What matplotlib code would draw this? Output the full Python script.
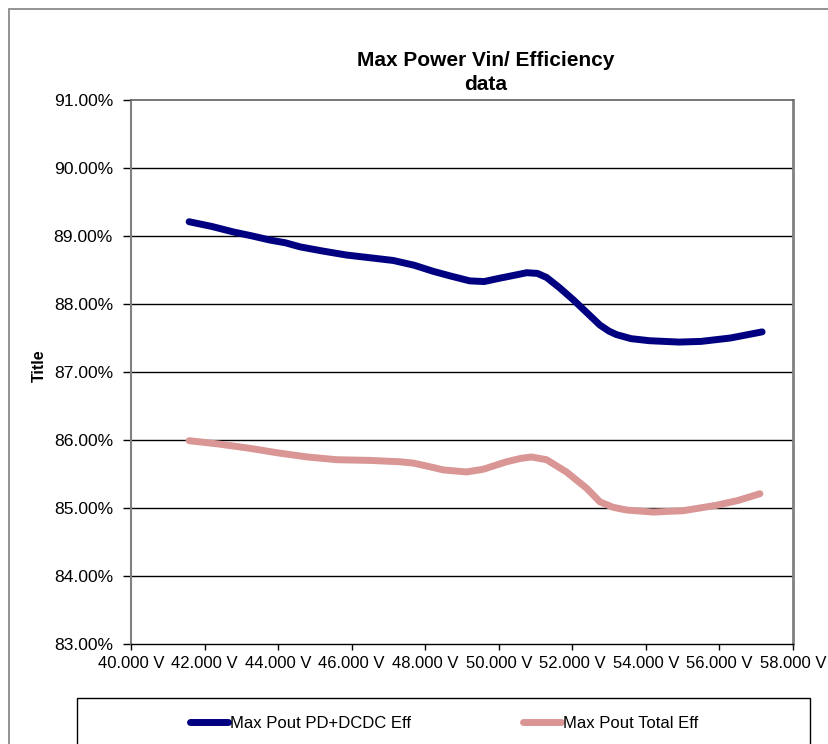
import matplotlib.pyplot as plt
from matplotlib.patches import Rectangle
from matplotlib.ticker import FuncFormatter, MultipleLocator

plt.rcParams['font.family'] = ['Liberation Sans', 'DejaVu Sans']

# Vin (V) and efficiency (%)
vin_dcdc = [41.58, 42.2, 42.78, 43.3, 43.78, 44.2, 44.6, 45.2, 45.86, 46.5, 47.13,
            47.7, 48.22, 48.7, 49.21, 49.6, 50.03, 50.4, 50.76, 51.05, 51.30, 51.65,
            52.03, 52.4, 52.75, 53.0, 53.2, 53.6, 54.1, 54.9, 55.5, 56.3, 57.16]
eff_dcdc = [89.21, 89.14, 89.06, 89.00, 88.94, 88.90, 88.84, 88.78, 88.72, 88.68, 88.64,
            88.57, 88.48, 88.41, 88.34, 88.33, 88.38, 88.42, 88.46, 88.45, 88.39, 88.24,
            88.06, 87.87, 87.69, 87.60, 87.55, 87.49, 87.46, 87.44, 87.45, 87.50, 87.59]

vin_total = [41.58, 42.4, 43.2, 44.0, 44.8, 45.6, 46.5, 47.31, 47.68, 48.1, 48.49,
             49.12, 49.58, 50.21, 50.6, 50.89, 51.30, 51.84, 52.39, 52.75, 53.11,
             53.48, 54.20, 55.01, 55.92, 56.5, 57.10]
eff_total = [85.99, 85.94, 85.88, 85.81, 85.75, 85.71, 85.70, 85.68, 85.66, 85.61, 85.56,
             85.53, 85.57, 85.68, 85.73, 85.75, 85.71, 85.53, 85.29, 85.09, 85.01,
             84.97, 84.94, 84.96, 85.04, 85.11, 85.21]

labels = ['Max Pout PD+DCDC Eff', 'Max Pout Total Eff']
colors = ['#000080', '#D99694']

W, H = 829, 744
fig = plt.figure(figsize=(W / 100, H / 100), dpi=100)
ax = fig.add_axes([131 / W, 1 - 644 / H, (793 - 131) / W, (644 - 100) / H])

# outer chart frame (runs off the right and bottom edge)
fig.patches.append(Rectangle((9 / W, -0.1), 1.2, 1 - 9 / H + 0.1, transform=fig.transFigure,
                             fill=False, edgecolor='#808080', linewidth=1.2))

l1, = ax.plot(vin_dcdc, eff_dcdc, color=colors[0], linewidth=5, solid_capstyle='round',
              solid_joinstyle='round', label=labels[0])
l2, = ax.plot(vin_total, eff_total, color=colors[1], linewidth=5, solid_capstyle='round',
              solid_joinstyle='round', label=labels[1])

ax.set_xlim(40, 58)
ax.set_ylim(83, 91)
ax.xaxis.set_major_locator(MultipleLocator(2))
ax.yaxis.set_major_locator(MultipleLocator(1))
ax.xaxis.set_major_formatter(FuncFormatter(lambda v, p: '%.3f V' % v))
ax.yaxis.set_major_formatter(FuncFormatter(lambda v, p: '%.2f%%' % v))
ax.tick_params(axis='y', labelsize=12.6, length=6, width=1, color='black', pad=7)
ax.tick_params(axis='x', labelsize=12, length=4.3, width=1, color='black', pad=4)

for y in range(84, 91):
    ax.axhline(y, color='black', linewidth=1, zorder=0)

ax.spines['left'].set_color('#808080')
ax.spines['left'].set_linewidth(1.5)
ax.spines['right'].set_color('#808080')
ax.spines['right'].set_linewidth(2)
ax.spines['top'].set_color('#606060')
ax.spines['top'].set_linewidth(1.2)
ax.spines['bottom'].set_color('black')
ax.spines['bottom'].set_linewidth(1)

fig.text(486 / W, 1 - 60 / H, 'Max Power Vin/ Efficiency', ha='center', va='center',
         fontsize=15, fontweight='bold')
fig.text(486 / W, 1 - 85 / H, 'data', ha='center', va='center', fontsize=15, fontweight='bold')
fig.text(39 / W, 1 - 366 / H, 'Title', ha='center', va='center', rotation=90,
         fontsize=11.5, fontweight='bold')

# legend box
fig.patches.append(Rectangle((77 / W, -0.1), (810 - 77) / W, 0.1 + 1 - 698 / H,
                             transform=fig.transFigure, fill=False, edgecolor='black',
                             linewidth=1))
fig.legend(handles=[l1, l2], loc='center', bbox_to_anchor=(444 / W, 1 - 723 / H), ncol=2,
           frameon=False, fontsize=12, handlelength=2.3, handletextpad=0.1,
           columnspacing=6.7)

fig.savefig('out.png', dpi=100)
